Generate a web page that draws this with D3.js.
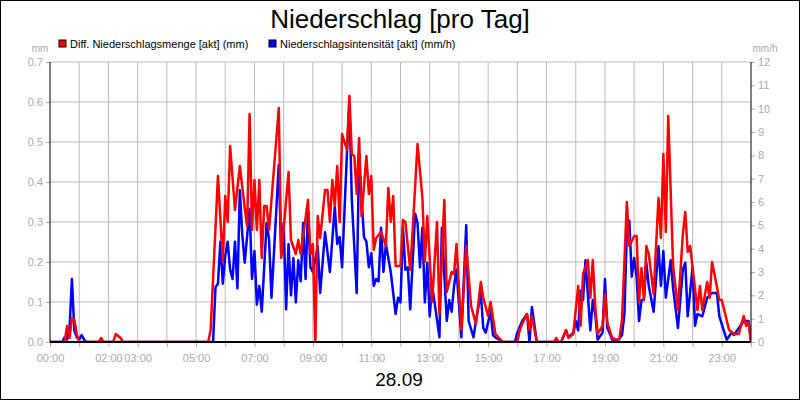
<!DOCTYPE html>
<html><head><meta charset="utf-8">
<script src="https://cdn.jsdelivr.net/npm/d3@7"></script>
<style>body{margin:0;background:#fff}svg{display:block;font-family:"Liberation Sans",Arial,sans-serif}</style>
</head><body><svg id="c" width="800" height="400"></svg>
<script>
const redTimes=[0,30,35,40,45,50,55,60,100,105,110,130,135,140,145,150,325,330,345,355,360,365,370,380,390,400,405,410,415,420,425,430,435,440,445,450,470,475,490,495,505,510,515,530,535,540,545,550,555,565,570,575,580,585,590,595,600,610,615,620,625,630,635,640,650,655,660,665,670,680,690,695,700,705,710,720,725,730,740,745,755,765,770,775,785,795,800,810,815,825,830,835,845,855,865,875,885,890,900,905,915,930,960,965,970,980,985,990,1000,1035,1040,1045,1050,1060,1065,1075,1085,1090,1095,1105,1110,1115,1120,1125,1135,1140,1145,1155,1165,1170,1175,1185,1190,1200,1205,1210,1215,1220,1225,1230,1240,1250,1255,1260,1265,1270,1280,1290,1300,1305,1310,1315,1330,1335,1340,1350,1355,1360,1365,1375,1380,1395,1405,1415,1425,1430,1435,1440];
const redValues=[0,0,0.04,0.01,0.06,0.055,0.02,0,0,0.01,0,0,0.02,0.015,0.01,0,0,0.03,0.415,0.2,0.365,0.30,0.49,0.33,0.44,0.335,0.29,0.57,0.28,0.405,0.28,0.405,0.21,0.34,0.34,0.28,0.585,0.21,0.425,0.255,0.22,0.255,0.22,0.355,0.22,0.245,0,0.315,0.26,0.38,0.38,0.30,0.405,0.34,0.44,0.3,0.52,0.48,0.615,0.47,0.465,0.37,0.51,0.315,0.465,0.37,0.415,0.23,0.26,0.275,0.24,0.385,0.30,0.365,0.19,0.19,0.305,0.3,0.18,0.28,0.495,0.36,0.2,0.315,0.1,0.3,0.07,0.355,0.125,0.175,0.17,0.245,0.03,0.24,0.09,0.045,0.15,0.11,0.065,0.1,0.02,0,0,0.03,0.045,0.07,0.03,0.065,0,0,0.01,0,0,0.03,0.01,0.02,0.14,0.04,0.17,0.205,0.11,0.205,0.09,0.02,0.04,0.12,0.047,0.01,0.005,0.01,0.055,0.35,0.24,0.265,0.265,0.1,0.185,0.105,0.24,0.22,0.12,0.36,0.26,0.47,0.275,0.565,0.19,0.08,0.27,0.325,0.225,0.24,0.08,0.14,0.08,0.15,0.11,0.2,0.17,0.105,0.105,0.03,0.02,0.02,0.065,0.04,0.05,0];
const blueTimes=[0,25,30,35,40,45,50,55,60,65,70,75,335,340,345,350,355,360,365,370,375,380,385,390,395,400,410,415,420,425,430,435,445,450,455,470,475,480,485,490,495,500,505,510,515,520,525,530,535,540,550,555,565,575,585,590,595,600,610,615,620,630,635,645,650,655,660,665,670,675,680,685,690,700,710,715,720,725,730,735,740,750,755,760,765,770,775,780,785,790,800,805,815,820,825,830,835,845,855,860,870,875,885,890,895,905,910,915,930,955,960,970,980,985,990,1000,1050,1060,1065,1075,1080,1085,1090,1095,1100,1110,1115,1120,1125,1135,1140,1145,1155,1165,1175,1180,1185,1190,1195,1200,1205,1210,1215,1220,1225,1230,1240,1250,1255,1260,1265,1275,1280,1290,1300,1305,1310,1320,1325,1330,1340,1345,1350,1360,1370,1375,1390,1400,1405,1415,1425,1435,1440];
const blueValues=[0,0,0.2,0.1,0.5,2.7,0.5,0.2,0.1,0.3,0.1,0,0,2.36,2.5,4.3,2.5,3.7,4.3,3.1,2.7,4.3,2.3,6.5,4.6,3.4,5.7,2.7,3.9,1.6,2.4,1.3,5.1,4.4,1.9,7.6,3.7,5.1,1.4,4.2,2.0,3.6,1.7,3.5,2.6,5.1,2.7,5.6,3.2,3.0,4.1,2.1,4.7,3.0,5.8,4.2,4.5,3.2,8.1,10.3,6.1,2.1,7.9,4.5,4.3,3.2,3.8,2.4,2.7,2.6,4.9,3.0,4.2,3.0,1.2,1.9,1.7,4.9,3.1,3.2,1.4,5.5,5.1,3.2,4.9,1.7,3.4,1.1,2.4,1.7,0.2,4.9,0.9,1.8,1.3,2.4,3.1,0.2,5.0,0.9,0.2,0.9,2.1,0.6,0.4,1.3,0.3,0.2,0,0,0.4,0.9,1.2,0,1.5,0,0,0.5,0.2,0.4,0.9,0.5,2.2,1.8,3.5,0.5,1.8,1.2,0.1,0.4,2.7,0.6,0.1,0,0.3,1.2,4.8,5.2,2.8,3.6,2.8,0.9,1.8,1.8,3.4,2.4,1.3,4.1,2.4,3.9,1.9,3.5,2.3,0.6,3.1,3.4,1.1,3.2,0.7,1.2,1.1,1.5,1.9,2.1,2.1,1.1,0.1,0.4,0.3,0.6,0.9,0.9,0];
const leftTicks=[0,0.1,0.2,0.3,0.4,0.5,0.6,0.7];
const rightTicks=[0,1,2,3,4,5,6,7,8,9,10,11,12];
const hourLabels=["00:00","02:00","03:00","05:00","07:00","09:00","11:00","13:00","15:00","17:00","19:00","21:00","23:00"];
const title="Niederschlag [pro Tag]", dateLabel="28.09";
const legendNames=["Diff. Niederschlagsmenge [akt] (mm)","Niederschlagsintensität [akt] (mm/h)"];

const svg=d3.select("#c");
const L=50,R=751,T=62,B=342;
const x=d3.scaleLinear().domain([0,1440]).range([L,R]);
const yL=d3.scaleLinear().domain([0,0.7]).range([B,T]);
const yR=d3.scaleLinear().domain([0,12]).range([B,T]);
svg.append("rect").attr("x",0.5).attr("y",0.5).attr("width",799).attr("height",399).attr("fill","#fff").attr("stroke","#000");
const hours=d3.range(0,25);
svg.append("g").selectAll("line").data(hours.slice(1,-1)).join("line")
 .attr("x1",d=>x(d*60)).attr("x2",d=>x(d*60)).attr("y1",T).attr("y2",B).attr("stroke","#bbb");
svg.append("g").selectAll("line").data(leftTicks.slice(1)).join("line")
 .attr("x1",L).attr("x2",R).attr("y1",d=>yL(d)).attr("y2",d=>yL(d)).attr("stroke","#bbb");
const gray="#aaa";
const ax=d3.axisBottom(x).tickValues(hours.map(h=>h*60)).tickSize(5).tickFormat(d=>{const s=String(d/60).padStart(2,"0")+":00";return hourLabels.includes(s)?s:"";});
const gx=svg.append("g").attr("transform",`translate(0,${B})`).call(ax);
const al=d3.axisLeft(yL).tickValues(leftTicks).tickSize(4).tickFormat(d3.format(".1f"));
const gl=svg.append("g").attr("transform",`translate(${L},0)`).call(al);
const ar=d3.axisRight(yR).tickValues(rightTicks).tickSize(4).tickFormat(d3.format("d"));
const gr=svg.append("g").attr("transform",`translate(${R},0)`).call(ar);
[gx,gl,gr].forEach(g=>{g.select(".domain").remove();g.selectAll(".tick line").attr("stroke",gray);g.selectAll("text").attr("fill",gray).attr("font-size",11).attr("font-family","Liberation Sans, Arial");});
gx.selectAll("text").attr("dy","1.1em");
const lb=d3.line().x((d,i)=>x(blueTimes[i])).y(d=>yR(d));
const lr=d3.line().x((d,i)=>x(redTimes[i])).y(d=>yL(d));
svg.append("clipPath").attr("id","cp").append("rect").attr("x",L).attr("y",T-2).attr("width",R-L).attr("height",B-T+1);
svg.append("path").attr("d",lb(blueValues)).attr("fill","none").attr("stroke","#0000ff").attr("stroke-width",2.5).attr("stroke-linejoin","round").attr("clip-path","url(#cp)");
svg.append("path").attr("d",lr(redValues)).attr("fill","none").attr("stroke","#ff0000").attr("stroke-width",2.5).attr("stroke-linejoin","round").attr("clip-path","url(#cp)");
svg.append("line").attr("x1",L).attr("x2",L).attr("y1",T).attr("y2",B).attr("stroke","#000");
svg.append("line").attr("x1",R).attr("x2",R).attr("y1",T).attr("y2",B).attr("stroke","#000");
svg.append("line").attr("x1",L).attr("x2",R).attr("y1",B).attr("y2",B).attr("stroke","#000").attr("stroke-width",2);
svg.append("text").attr("x",400).attr("y",28).attr("text-anchor","middle").attr("font-size",26).text(title);
svg.append("text").attr("x",399).attr("y",386).attr("text-anchor","middle").attr("font-size",19).text(dateLabel);
svg.append("text").attr("x",40).attr("y",52).attr("text-anchor","middle").attr("font-size",10).attr("fill",gray).text("mm");
svg.append("text").attr("x",765).attr("y",52).attr("text-anchor","middle").attr("font-size",10).attr("fill",gray).text("mm/h");
const lg=[{x:59,c:"#ff0000"},{x:269,c:"#0000ff"}];
lg.forEach((l,i)=>{
 svg.append("rect").attr("x",l.x).attr("y",40).attr("width",7).attr("height",7).attr("fill",l.c).attr("stroke","#000");
 svg.append("text").attr("x",l.x+11).attr("y",48).attr("font-size",11).text(legendNames[i]);
});
</script></body></html>
